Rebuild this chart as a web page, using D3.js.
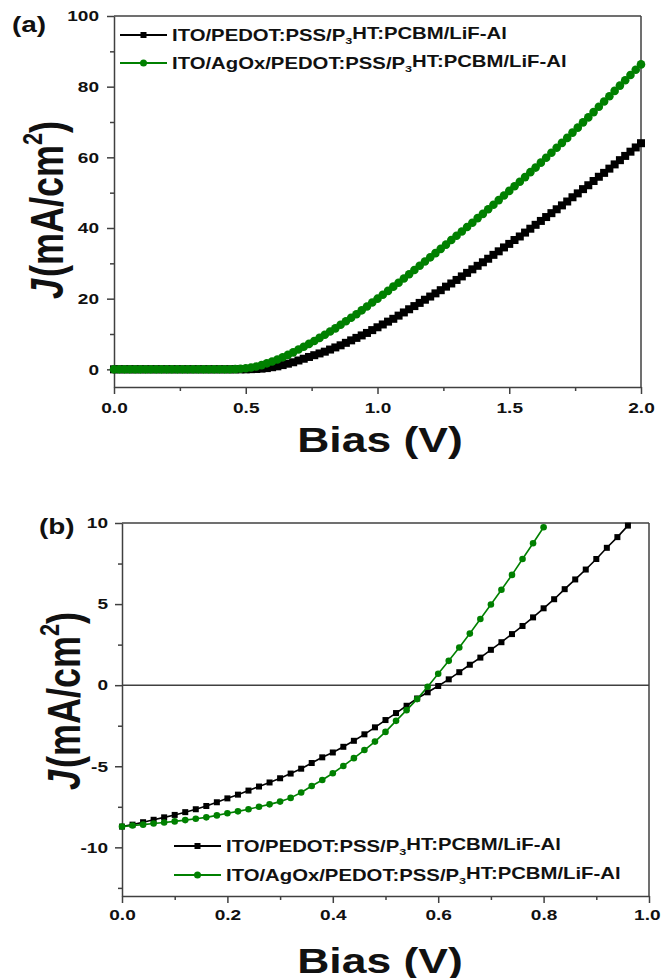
<!DOCTYPE html>
<html>
<head>
<meta charset="utf-8">
<script src="https://cdn.jsdelivr.net/npm/d3@7"></script>
<style>
  html, body { margin: 0; padding: 0; background: #fff; }
  svg { display: block; }
  text { font-family: "Liberation Sans", Arial, sans-serif; font-weight: bold; }
</style>
</head>
<body>
<svg id="chart" width="661" height="978"></svg>
<script>
// ---------------- DATA ----------------
const seriesNames = [
  "ITO/PEDOT:PSS/P3HT:PCBM/LiF-Al",
  "ITO/AgOx/PEDOT:PSS/P3HT:PCBM/LiF-Al"
];

// Panel (a): bias 0..2 V, step 0.02 V
const biasA = d3.range(0, 101).map(i => +(i * 0.02).toFixed(2));
const jA_ref = [
  0,0,0,0,0,0,0,0,0,0, 0,0,0,0,0,0,0,0,0,0, 0,0,0,0,0,0,
  0.05,0.1,0.2,0.35,0.6,0.85,1.2,1.6,2.0,2.5,
  3.0,3.5,4.0,4.5,5.0,5.6,6.2,6.8,7.5,8.2,
  8.9,9.6,10.3,11.1,11.9,12.7,13.5,14.3,15.2,16.1,
  17.0,17.9,18.8,19.7,20.6,21.5,22.4,23.4,24.3,25.3,
  26.3,27.3,28.3,29.3,30.3,31.3,32.4,33.4,34.5,35.5,
  36.6,37.6,38.7,39.8,40.9,42.0,43.1,44.2,45.3,46.4,
  47.5,48.7,49.8,51.0,52.1,53.3,54.5,55.6,56.8,58.0,
  59.2,60.4,61.6,62.8,64.0
];
const jA_agox = [
  0,0,0,0,0,0,0,0,0,0, 0,0,0,0,0,0,0,0,0,0, 0,0,0,
  0.05,0.15,0.3,0.5,0.8,1.2,1.7,2.2,2.8,3.4,
  4.1,4.8,5.6,6.4,7.2,8.0,8.9,9.8,10.7,11.6,
  12.6,13.6,14.6,15.6,16.7,17.8,18.9,20.0,21.1,22.2,
  23.4,24.5,25.7,26.9,28.1,29.3,30.5,31.7,32.9,34.1,
  35.3,36.6,37.8,39.0,40.3,41.5,42.8,44.0,45.3,46.6,
  47.9,49.2,50.5,51.8,53.1,54.4,55.8,57.1,58.5,59.9,
  61.3,62.7,64.1,65.5,67.0,68.4,69.9,71.3,72.8,74.3,
  75.8,77.3,78.8,80.3,81.8,83.3,84.8,86.3
];

// Panel (b): step 0.02 V
const biasB_ref = d3.range(0, 49).map(i => +(i * 0.02).toFixed(2));   // 0..0.96
const jB_ref = [
  -8.72,-8.6,-8.45,-8.3,-8.15,-8.0,-7.83,-7.65,-7.45,-7.22,
  -6.98,-6.75,-6.5,-6.25,-6.0,-5.74,-5.45,-5.15,-4.8,-4.45,
  -4.15,-3.8,-3.43,-3.03,-2.6,-2.15,-1.72,-1.27,-0.82,-0.44,
  -0.05,0.36,0.8,1.26,1.7,2.18,2.65,3.15,3.65,4.18,
  4.74,5.3,5.92,6.52,7.13,7.78,8.47,9.13,9.84
];
const biasB_agox = d3.range(0, 41).map(i => +(i * 0.02).toFixed(2)); // 0..0.80
const jB_agox = [
  -8.72,-8.65,-8.6,-8.53,-8.47,-8.4,-8.32,-8.24,-8.15,-8.03,
  -7.9,-7.78,-7.65,-7.5,-7.35,-7.18,-6.95,-6.62,-6.22,-5.85,
  -5.43,-4.98,-4.5,-4.0,-3.48,-2.88,-2.2,-1.54,-0.86,-0.1,
  0.7,1.5,2.32,3.18,4.08,4.97,5.88,6.8,7.78,8.75,
  9.74
];

// Ticks
const xTicksA = [0, 0.5, 1.0, 1.5, 2.0];
const xMinorA = [0.25, 0.75, 1.25, 1.75];
const yTicksA = [0, 20, 40, 60, 80, 100];
const yMinorA = [10, 30, 50, 70, 90];
const xTicksB = [0, 0.2, 0.4, 0.6, 0.8, 1.0];
const xMinorB = [0.1, 0.3, 0.5, 0.7, 0.9];
const yTicksB = [-10, -5, 0, 5, 10];
const yMinorB = [-12.5, -7.5, -2.5, 2.5, 7.5];

// ---------------- DRAWING ----------------
const SX = 1.27;         // horizontal stretch of the original picture's text
const BLACK = "#000";
const GREEN = "#008000";
const AXIS = "#404040";
const W = 661;
const svg = d3.select("#chart");

function stretchText(parent, x, y, size, anchor) {
  return parent.append("text")
    .attr("transform", `translate(${x},${y}) scale(${SX},1)`)
    .attr("font-size", size)
    .attr("text-anchor", anchor || "start")
    .attr("fill", "#111");
}

function legendLabel(t, name) {
  const parts = name.split("P3HT");
  t.append("tspan").text(parts[0] + "P");
  t.append("tspan").attr("font-size", "0.62em").attr("dy", "0.3em").text("3");
  t.append("tspan").attr("dy", "-0.3em").text("HT" + parts[1]);
}

function yTitle(x, y) {
  const t = svg.append("text")
    .attr("transform", `translate(${x},${y}) rotate(-90) scale(1,${SX})`)
    .attr("font-size", 36)
    .attr("text-anchor", "middle")
    .attr("fill", "#111");
  t.append("tspan").attr("font-style", "italic").text("J");
  t.append("tspan").attr("dx", 2).text("(mA/cm");
  t.append("tspan").attr("font-size", "0.6em").attr("dy", "-0.75em").text("2");
  t.append("tspan").attr("dy", "0.45em").text(")");
}

function drawPanel(cfg) {
  const x = d3.scaleLinear().domain(cfg.xDomain).range([cfg.left, cfg.right]);
  const y = d3.scaleLinear().domain(cfg.yDomain).range([cfg.bottom, cfg.top]);
  const g = svg.append("g");

  // frame (top & right)
  g.append("line").attr("x1", cfg.left).attr("x2", cfg.right).attr("y1", cfg.top).attr("y2", cfg.top)
    .attr("stroke", AXIS).attr("stroke-width", 1.5);
  g.append("line").attr("x1", cfg.right).attr("x2", cfg.right).attr("y1", cfg.top).attr("y2", cfg.bottom)
    .attr("stroke", AXIS).attr("stroke-width", 1.5);

  if (cfg.zeroLine) {
    g.append("line").attr("x1", cfg.left).attr("x2", cfg.right).attr("y1", y(0)).attr("y2", y(0))
      .attr("stroke", AXIS).attr("stroke-width", 1.5);
  }

  // minor ticks
  g.append("g").attr("transform", `translate(0,${cfg.bottom})`)
    .call(d3.axisBottom(x).tickValues(cfg.xMinor).tickSize(4).tickFormat(""))
    .call(s => s.select(".domain").remove());
  g.append("g").attr("transform", `translate(${cfg.left},0)`)
    .call(d3.axisLeft(y).tickValues(cfg.yMinor).tickSize(4).tickFormat(""))
    .call(s => s.select(".domain").remove());

  // major axes
  const xa = g.append("g").attr("transform", `translate(0,${cfg.bottom})`)
    .call(d3.axisBottom(x).tickValues(cfg.xTicks).tickSize(7).tickPadding(cfg.xPad).tickSizeOuter(0)
      .tickFormat(d3.format(".1f")));
  const ya = g.append("g").attr("transform", `translate(${cfg.left},0)`)
    .call(d3.axisLeft(y).tickValues(cfg.yTicks).tickSize(7).tickPadding(cfg.yPad).tickSizeOuter(0)
      .tickFormat(d => String(d)));

  [xa, ya].forEach(a => {
    a.selectAll("path, line").attr("stroke", AXIS).attr("stroke-width", 1.5);
    a.selectAll("text").attr("font-size", 15).attr("fill", "#111")
      .attr("font-family", '"Liberation Sans", Arial, sans-serif').attr("font-weight", "bold")
      .each(function () {
        const t = d3.select(this);
        const tx = +t.attr("x") || 0;
        t.attr("x", tx / SX).attr("transform", `scale(${SX},1)`);
      });
  });
  // keep the last x label inside the page
  xa.selectAll(".tick").each(function (d) {
    const tickX = x(d);
    const txt = d3.select(this).select("text");
    const w = this.querySelector("text").getComputedTextLength() * SX;
    const over = tickX + w / 2 - (W - 1);
    if (over > 0) txt.attr("x", -over / SX);
  });
  g.selectAll(".tick line").attr("stroke", AXIS).attr("stroke-width", 1.5);

  // series
  cfg.series.forEach(s => {
    const pts = s.xs.map((v, i) => [v, s.ys[i]]);
    g.append("path").datum(pts)
      .attr("fill", "none").attr("stroke", s.color).attr("stroke-width", 1.6)
      .attr("d", d3.line().x(d => x(d[0])).y(d => y(d[1])));
    if (s.shape === "square") {
      g.append("g").selectAll("rect").data(pts).join("rect")
        .attr("x", d => x(d[0]) - cfg.msize / 2).attr("y", d => y(d[1]) - cfg.msize / 2)
        .attr("width", cfg.msize).attr("height", cfg.msize).attr("fill", s.color);
    } else {
      g.append("g").selectAll("circle").data(pts).join("circle")
        .attr("cx", d => x(d[0])).attr("cy", d => y(d[1]))
        .attr("r", cfg.msize / 2 + 0.3).attr("fill", s.color);
    }
  });

  // legend
  cfg.series.forEach((s, i) => {
    const ly = cfg.legY[i];
    const lx0 = cfg.legX, lx1 = cfg.legX + 47, lm = (lx0 + lx1) / 2;
    g.append("line").attr("x1", lx0).attr("x2", lx1).attr("y1", ly).attr("y2", ly)
      .attr("stroke", s.color).attr("stroke-width", 2.2);
    if (s.shape === "square") {
      g.append("rect").attr("x", lm - 3).attr("y", ly - 3).attr("width", 6).attr("height", 6).attr("fill", s.color);
    } else {
      g.append("circle").attr("cx", lm).attr("cy", ly).attr("r", 3.5).attr("fill", s.color);
    }
    const t = stretchText(g, lx1 + 5, ly + 5.8, 16);
    legendLabel(t, s.name);
  });

  // titles
  stretchText(svg, cfg.xTitleX, cfg.xTitleY, 35, "middle").text("Bias (V)");
  yTitle(cfg.yTitleX, cfg.yTitleY);
  stretchText(svg, cfg.tagX, cfg.tagY, 22).text(cfg.tag);
}

drawPanel({
  left: 114, right: 641, top: 16, bottom: 387,
  xDomain: [0, 2], yDomain: [-5, 100],
  xTicks: xTicksA, xMinor: xMinorA, yTicks: yTicksA, yMinor: yMinorA,
  xPad: 8, yPad: 8, msize: 8, zeroLine: false,
  series: [
    { name: seriesNames[0], xs: biasA, ys: jA_ref, color: BLACK, shape: "square" },
    { name: seriesNames[1], xs: biasA, ys: jA_agox, color: GREEN, shape: "circle" }
  ],
  legX: 120, legY: [35, 63],
  xTitleX: 380, xTitleY: 451.5, yTitleX: 63, yTitleY: 210,
  tag: "(a)", tagX: 12, tagY: 31.5
});

drawPanel({
  left: 122, right: 649, top: 523, bottom: 896,
  xDomain: [0, 1], yDomain: [-13, 10],
  xTicks: xTicksB, xMinor: xMinorB, yTicks: yTicksB, yMinor: yMinorB,
  xPad: 6, yPad: 7, msize: 6, zeroLine: true,
  series: [
    { name: seriesNames[0], xs: biasB_ref, ys: jB_ref, color: BLACK, shape: "square" },
    { name: seriesNames[1], xs: biasB_agox, ys: jB_agox, color: GREEN, shape: "circle" }
  ],
  legX: 174, legY: [846, 875],
  xTitleX: 380, xTitleY: 972.5, yTitleX: 80, yTitleY: 701,
  tag: "(b)", tagX: 39, tagY: 534
});
</script>
</body>
</html>
